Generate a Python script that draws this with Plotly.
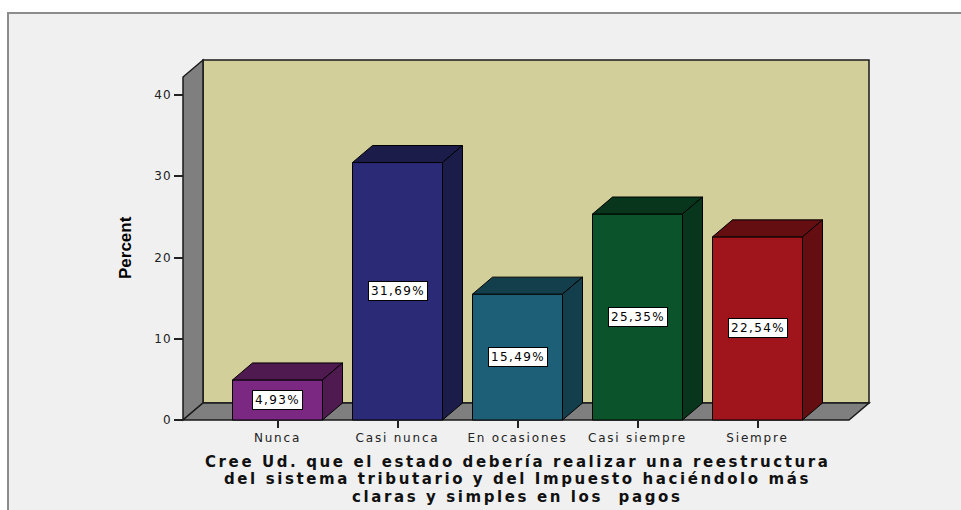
import plotly.graph_objects as go

# ---- data ----
categories = ["Nunca", "Casi nunca", "En ocasiones", "Casi siempre", "Siempre"]
percent = [4.93, 31.69, 15.49, 25.35, 22.54]
y_ticks = [0, 10, 20, 30, 40]
y_title = "Percent"
x_title_lines = [
    "Cree Ud. que el estado debería realizar una reestructura",
    "del sistema tributario y del Impuesto haciéndolo más",
    "claras y simples en los  pagos",
]

# ---- style ----
front_colors = ["#7B2882", "#2A2A76", "#1E5F78", "#0A532B", "#A0151B"]
dark_colors = ["#4E1A50", "#1C1C4A", "#133F4D", "#07361C", "#650E12"]
wall_color = "#D3CF9B"
side_wall_color = "#7F7F7F"
frame_bg = "#F0F0F0"
FONT = "Liberation Sans, Arial, sans-serif"
WIDE = "DejaVu Sans, Verdana, sans-serif"

W, H = 961, 510
L, R, T, B = 180, 873, 58, 422          # plot area in px
px_per_cat = 120.0
cat0_px = 277.5
px_per_unit = 8.125
zero_px = 420.0

x_range = [(L - cat0_px) / px_per_cat, (R - cat0_px) / px_per_cat]
y_range = [(zero_px - B) / px_per_unit, (zero_px - T) / px_per_unit]

dx = 20 / px_per_cat        # depth offset in category units
dy = 17 / px_per_unit       # depth offset in value units
bw = 0.75                   # bar width

# chart box (walls) in data units
front_left = (183 - cat0_px) / px_per_cat
front_right = (849 - cat0_px) / px_per_cat
wall_top = (zero_px - 60) / px_per_unit

xs = list(range(len(categories)))

fig = go.Figure()
fig.add_trace(go.Bar(
    x=xs, y=percent, width=bw,
    marker=dict(color=front_colors, line=dict(color="black", width=1)),
    hoverinfo="skip", showlegend=False,
))

shapes = []
# outer frame
shapes.append(dict(type="rect", xref="paper", yref="paper", layer="below",
                   x0=(8 - L) / (R - L), x1=(975 - L) / (R - L),
                   y0=(B - 530) / (B - T), y1=(B - 13) / (B - T),
                   fillcolor=frame_bg, line=dict(color="#8C8C8C", width=2)))
# back wall
shapes.append(dict(type="rect", xref="x", yref="y", layer="below",
                   x0=front_left + dx, x1=front_right + dx, y0=dy, y1=wall_top,
                   fillcolor=wall_color, line=dict(color="#1A1A1A", width=1.5)))
# left wall
shapes.append(dict(type="path", xref="x", yref="y", layer="below",
                   path=f"M {front_left},0 L {front_left+dx},{dy} L {front_left+dx},{wall_top} "
                        f"L {front_left},{wall_top-dy} Z",
                   fillcolor=side_wall_color, line=dict(color="#1A1A1A", width=1.5)))
# floor
shapes.append(dict(type="path", xref="x", yref="y", layer="below",
                   path=f"M {front_left},0 L {front_right},0 L {front_right+dx},{dy} "
                        f"L {front_left+dx},{dy} Z",
                   fillcolor=side_wall_color, line=dict(color="#1A1A1A", width=1.5)))
# bar tops and sides
for c, v, dc in zip(xs, percent, dark_colors):
    l, r = c - bw / 2, c + bw / 2
    shapes.append(dict(type="path", xref="x", yref="y", layer="above",
                       path=f"M {l},{v} L {l+dx},{v+dy} L {r+dx},{v+dy} L {r},{v} Z",
                       fillcolor=dc, line=dict(color="black", width=1)))
    shapes.append(dict(type="path", xref="x", yref="y", layer="above",
                       path=f"M {r},0 L {r},{v} L {r+dx},{v+dy} L {r+dx},{dy} Z",
                       fillcolor=dc, line=dict(color="black", width=1)))

annotations = []
for c, v in zip(xs, percent):
    label = f"{v:.2f}".replace(".", ",") + "%"
    annotations.append(dict(
        x=c, y=v / 2, xref="x", yref="y", showarrow=False,
        text=f'<span style="letter-spacing:1.4px">{label}</span>',
        font=dict(family=WIDE, size=12, color="black"),
        bgcolor="white", bordercolor="black", borderwidth=1, borderpad=2,
    ))

annotations.append(dict(
    x=(126 - L) / (R - L), y=(B - 248) / (B - T), xref="paper", yref="paper",
    showarrow=False, textangle=-90, xanchor="center", yanchor="middle",
    text=f"<b>{y_title}</b>",
    font=dict(family=FONT, size=17, color="black"),
))

for line, ypx in zip(x_title_lines, [462, 479.5, 497]):
    annotations.append(dict(
        x=(517 - L) / (R - L), y=(B - ypx) / (B - T), xref="paper", yref="paper",
        showarrow=False, xanchor="center", yanchor="middle",
        text=f'<span style="letter-spacing:2.6px"><b>{line}</b></span>',
        font=dict(family=WIDE, size=15, color="#111111"),
    ))

fig.update_layout(
    width=W, height=H,
    margin=dict(l=L, r=W - R, t=T, b=H - B, pad=0),
    paper_bgcolor="white", plot_bgcolor="rgba(0,0,0,0)",
    shapes=shapes, annotations=annotations,
    showlegend=False,
    xaxis=dict(range=x_range, tickvals=xs,
               ticktext=[f'<span style="letter-spacing:1.8px">{c}</span>' for c in categories],
               ticks="outside", ticklen=7, tickwidth=1.5, tickcolor="#222222",
               showgrid=False, zeroline=False, showline=False,
               anchor="free", position=(B - zero_px) / (B - T),
               tickfont=dict(family=WIDE, size=12, color="#222222"),
               fixedrange=True),
    yaxis=dict(range=y_range, tickvals=y_ticks,
               ticktext=[f'<span style="letter-spacing:1px">{t}</span>' for t in y_ticks],
               ticks="outside", ticklen=9, tickwidth=1.5, tickcolor="#222222",
               showgrid=False, zeroline=False, showline=False,
               anchor="free", position=(183 - L) / (R - L),
               tickfont=dict(family=WIDE, size=12, color="#222222"),
               fixedrange=True),
)

fig.write_html(
    "out.html",
    config={"displayModeBar": False},
    post_script="document.body.style.margin='0';document.body.style.overflow='hidden';",
)
